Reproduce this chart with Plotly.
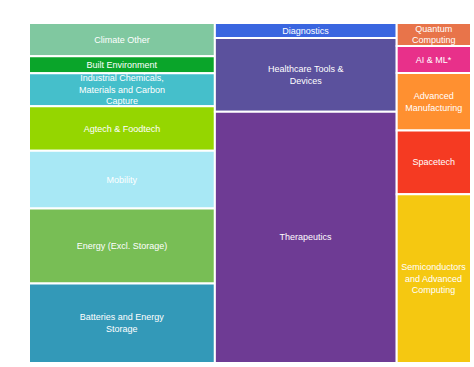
import plotly.graph_objects as go

# ---- data (share of total, %) ----
sectors = ["Climate Tech", "Healthcare", "Deep Tech"]

climate_labels = ["Climate Other", "Built Environment",
                  "Industrial Chemicals, Materials and Carbon Capture",
                  "Agtech & Foodtech", "Mobility", "Energy (Excl. Storage)",
                  "Batteries and Energy Storage"]
climate_values = [4.1, 2.1, 4.1, 5.5, 7.15, 9.27, 9.83]
climate_text = ["Climate Other", "Built Environment",
                "Industrial Chemicals,<br>Materials and Carbon<br>Capture",
                "Agtech & Foodtech", "Mobility", "Energy (Excl. Storage)",
                "Batteries and Energy<br>Storage"]
climate_colors = ["#80C8A0", "#0AA52A", "#45BFCB", "#95D600", "#A8E8F5",
                  "#78BE55", "#3399B8"]

health_labels = ["Diagnostics", "Healthcare Tools & Devices", "Therapeutics"]
health_values = [1.83, 8.92, 30.39]
health_text = ["Diagnostics", "Healthcare Tools &<br>Devices", "Therapeutics"]
health_colors = ["#3A66E0", "#5B519D", "#6E3B94"]

tech_labels = ["Quantum Computing", "AI & ML*", "Advanced Manufacturing",
               "Spacetech", "Semiconductors and Advanced Computing"]
tech_values = [1.14, 1.33, 2.85, 3.15, 8.34]
tech_text = ["Quantum<br>Computing", "AI & ML*", "Advanced<br>Manufacturing",
             "Spacetech", "Semiconductors<br>and Advanced<br>Computing"]
tech_colors = ["#E8744A", "#E8308A", "#FF9030", "#F53A22", "#F5C811"]

# ---- build hierarchy ----
ids, labels, parents, values, colors, texts = ["root"], [""], [""], [0], ["#FFFFFF"], [""]
groups = [(climate_labels, climate_values, climate_text, climate_colors),
          (health_labels, health_values, health_text, health_colors),
          (tech_labels, tech_values, tech_text, tech_colors)]
for sec, (labs, vals, txts, cols) in zip(sectors, groups):
    ids.append(sec); labels.append(sec); parents.append("root")
    values.append(0); colors.append("#FFFFFF"); texts.append("")
    for l, v, t, c in zip(labs, vals, txts, cols):
        ids.append(sec + "/" + l); labels.append(l); parents.append(sec)
        values.append(v); colors.append(c); texts.append(t)

fig = go.Figure(go.Treemap(
    ids=ids, labels=labels, parents=parents, values=values,
    text=texts, texttemplate="%{text}", textposition="middle center",
    sort=False,
    tiling=dict(packing="slice-dice", pad=0),
    marker=dict(colors=colors, line=dict(color="#FFFFFF", width=2),
                pad=dict(t=0, l=0, r=0, b=0)),
    pathbar=dict(visible=False),
    textfont=dict(family="Liberation Sans, Arial, sans-serif", size=9, color="#FFFFFF"),
    hoverinfo="skip",
))
fig.update_layout(
    width=474, height=367,
    margin=dict(l=29, r=3, t=23, b=4),
    paper_bgcolor="#FFFFFF",
    uniformtext=dict(minsize=9, mode="show"),
    showlegend=False,
)
fig.write_html("out.html",
               config={"displayModeBar": False},
               post_script="document.body.style.margin='0';document.body.style.overflow='hidden';")
